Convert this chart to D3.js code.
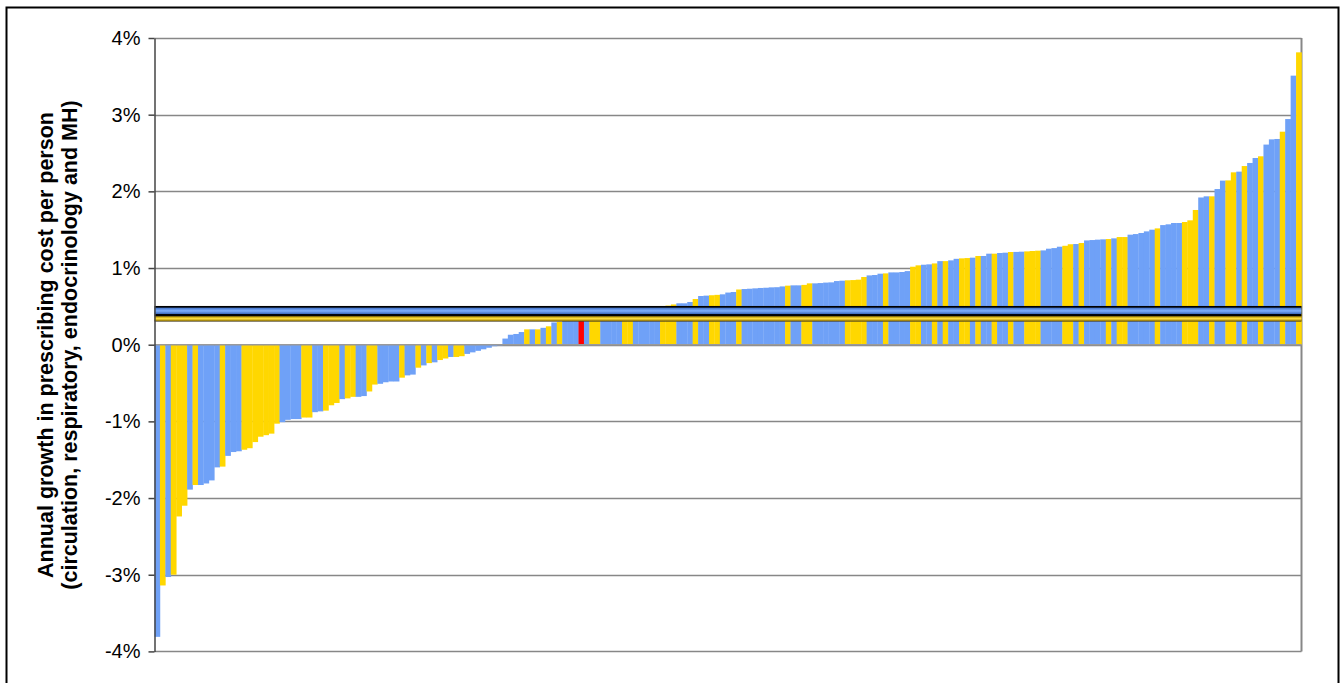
<!DOCTYPE html>
<html><head><meta charset="utf-8">
<script src="https://cdn.jsdelivr.net/npm/d3@7/dist/d3.min.js"></script>
<style>body{margin:0;background:#fff}svg{display:block}text{font-family:"Liberation Sans",Arial,sans-serif}</style>
</head><body><svg id="c" width="1343" height="683"></svg>
<script>
// growth values (%) for each area, sorted
const values = [
 -3.81,-3.14,-3.03,-3.00,-2.24,-2.10,-1.89,-1.83,-1.83,-1.81,
 -1.77,-1.60,-1.59,-1.45,-1.40,-1.39,-1.37,-1.35,-1.27,-1.20,
 -1.18,-1.16,-1.03,-1.01,-0.98,-0.97,-0.97,-0.95,-0.95,-0.88,
 -0.87,-0.86,-0.79,-0.76,-0.71,-0.70,-0.68,-0.68,-0.67,-0.61,
 -0.52,-0.51,-0.49,-0.48,-0.48,-0.43,-0.40,-0.39,-0.30,-0.27,
 -0.24,-0.23,-0.20,-0.18,-0.16,-0.16,-0.15,-0.12,-0.10,-0.08,
 -0.06,-0.04,-0.02,-0.01,0.08,0.13,0.14,0.165,0.20,0.20,
 0.20,0.22,0.24,0.29,0.30,0.31,0.32,0.32,0.34,0.35,
 0.36,0.36,0.38,0.39,0.40,0.40,0.42,0.43,0.44,0.45,
 0.46,0.47,0.49,0.505,0.51,0.525,0.54,0.54,0.557,0.596,
 0.635,0.64,0.645,0.65,0.657,0.68,0.687,0.72,0.726,0.73,
 0.735,0.74,0.743,0.748,0.75,0.76,0.77,0.774,0.774,0.78,
 0.80,0.80,0.804,0.81,0.813,0.83,0.835,0.84,0.843,0.848,
 0.883,0.904,0.909,0.926,0.93,0.943,0.943,0.948,0.96,1.017,
 1.035,1.043,1.048,1.06,1.09,1.09,1.10,1.12,1.126,1.13,
 1.135,1.157,1.157,1.187,1.187,1.196,1.20,1.209,1.21,1.213,
 1.217,1.222,1.226,1.23,1.252,1.26,1.278,1.29,1.31,1.313,
 1.326,1.36,1.365,1.37,1.374,1.378,1.387,1.404,1.404,1.435,
 1.443,1.457,1.478,1.50,1.517,1.56,1.57,1.587,1.587,1.60,
 1.622,1.757,1.92,1.935,1.935,2.03,2.14,2.143,2.248,2.257,
 2.33,2.37,2.435,2.457,2.61,2.678,2.683,2.778,2.943,3.509,
 3.813
];
// group of each area: b = other, y = same cluster, r = selected
const groups = (
 "bybyyybybb"+"bbybbbyyyy"+"yyybbbbyyb"+"byyybyybby"+"ybbbbybbyb"+
 "ybyybyybbb"+"bbbbbbbbyb"+"ybybybbbrb"+"yybbbbyybb"+"bbbyyybbby"+
 "bbyybbbybb"+"bbbbbbybby"+"ybbbbbbyyy"+"ybbbybbbby"+"ybbybybbyy"+
 "bybbybbybb"+"yyybbbbyyb"+"ybbbbybyyb"+"bbbbybbbby"+"yybbybbyyb"+
 "ybbybbbybby").split("");
const categories = values.map((v,i)=>i);
const yTicks = [-4,-3,-2,-1,0,1,2,3,4];
const averageLine = 0.44;   // blue reference line
const clusterLine = 0.34;   // yellow reference line
const yTitle = ["Annual growth in prescribing cost per person","(circulation, respiratory, endocrinology and MH)"];

(function(){
const svg = d3.select("#c");
const pL = 154.5, pR = 1301.5, pT = 38, pB = 651.4;
const x = d3.scaleBand().domain(categories).range([pL,pR]).padding(0);
const y = d3.scaleLinear().domain([-4,4]).range([pB,pT]);
const colour = {b:"#6FA1F7", y:"#FFD700", r:"#FF0000"};

// outer frame
svg.append("rect").attr("x",6.5).attr("y",7.5).attr("width",1332).attr("height",690)
  .attr("fill","none").attr("stroke","#000").attr("stroke-width",2);

// gridlines
svg.append("g").selectAll("line").data(yTicks).join("line")
  .attr("x1",pL).attr("x2",pR).attr("y1",d=>Math.round(y(d))+0.5).attr("y2",d=>Math.round(y(d))+0.5)
  .attr("stroke","#878787").attr("stroke-width",1.5);
svg.append("line").attr("x1",pR).attr("x2",pR).attr("y1",pT).attr("y2",pB)
  .attr("stroke","#878787").attr("stroke-width",2);

// bars
const y0 = y(0);
svg.append("g").selectAll("rect").data(values).join("rect")
  .attr("x",(d,i)=>x(i)).attr("width",x.bandwidth()+0.3)
  .attr("y",d=>Math.min(y(d),y0)).attr("height",d=>Math.abs(y(d)-y0))
  .attr("fill",(d,i)=>colour[groups[i]]);

svg.append("line").attr("x1",pL).attr("x2",pR).attr("y1",y0).attr("y2",y0)
  .attr("stroke","#9a9a9a").attr("stroke-width",1.5);

// reference lines with shaded look
const defs = svg.append("defs");
const gb = defs.append("linearGradient").attr("id","gb").attr("x1",0).attr("x2",0).attr("y1",0).attr("y2",1);
gb.append("stop").attr("offset","0%").attr("stop-color","#3f6fc4");
gb.append("stop").attr("offset","50%").attr("stop-color","#7fb0ff");
gb.append("stop").attr("offset","100%").attr("stop-color","#3a66b8");
const gy = defs.append("linearGradient").attr("id","gy").attr("x1",0).attr("x2",0).attr("y1",0).attr("y2",1);
gy.append("stop").attr("offset","0%").attr("stop-color","#b89400");
gy.append("stop").attr("offset","50%").attr("stop-color","#ffe040");
gy.append("stop").attr("offset","100%").attr("stop-color","#a88600");

const yl = y(clusterLine);
svg.append("rect").attr("x",pL).attr("width",pR-pL).attr("y",yl-3).attr("height",6).attr("fill","#4a4020");
svg.append("rect").attr("x",pL).attr("width",pR-pL).attr("y",yl-2.2).attr("height",4.4).attr("fill","url(#gy)");
const bl = y(averageLine);
svg.append("rect").attr("x",pL).attr("width",pR-pL).attr("y",bl-5).attr("height",10).attr("fill","#000");
svg.append("rect").attr("x",pL).attr("width",pR-pL).attr("y",bl-3.3).attr("height",6.4).attr("fill","url(#gb)");

// y axis
const ax = svg.append("g").attr("transform",`translate(${pL},0)`)
  .call(d3.axisLeft(y).tickValues(yTicks).tickFormat(d=>d+"%").tickSize(6).tickSizeOuter(0));
ax.select(".domain").attr("stroke","#444").attr("stroke-width",1.5);
ax.selectAll(".tick line").attr("stroke","#444").attr("stroke-width",1.5);
ax.selectAll(".tick text").attr("font-size",20).attr("fill","#000").attr("x",-14)
  .style("font-family","'Liberation Sans',Arial,sans-serif");

// y title
const t = svg.append("text").attr("transform","translate(0,345) rotate(-90)")
  .attr("text-anchor","middle").attr("font-weight","bold").attr("font-size",21.5).attr("fill","#000");
t.selectAll("tspan").data(yTitle).join("tspan").attr("x",0).attr("y",(d,i)=>i?77:52.5).text(d=>d);
})();
</script></body></html>
